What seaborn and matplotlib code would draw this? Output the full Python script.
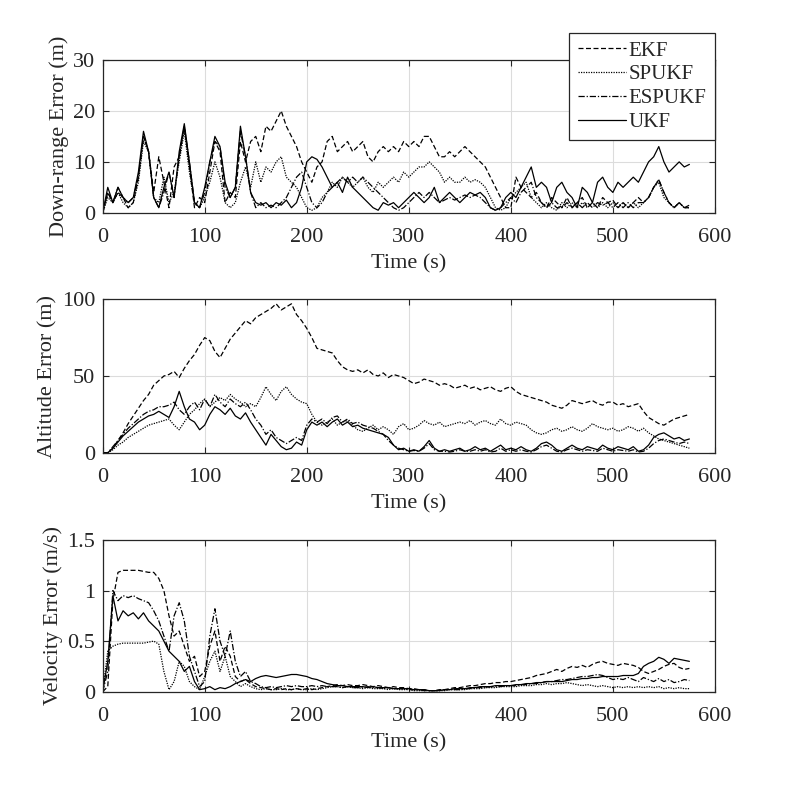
import numpy as np
import pandas as pd
import matplotlib
matplotlib.use("Agg")
import matplotlib.pyplot as plt
import seaborn as sns

# time axis, one sample every 5 s (0 ... 575 s)
t = np.arange(0, 580, 5)

filters = ["EKF", "SPUKF", "ESPUKF", "UKF"]

# ---------------- down-range error (m) ----------------
dr_ekf = [0, 4, 2, 4, 3, 1, 2, 7, 15, 12,
          4, 11, 6, 1, 9, 11, 17, 9, 1, 3,
          2, 8, 14, 12, 2, 4, 3, 14, 10, 14,
          15, 12, 17, 16, 18, 20, 17, 15, 13, 10,
          8, 6, 9, 10, 14, 15, 12, 13, 14, 12,
          13, 14, 11, 10, 12, 13, 12, 13, 12, 14,
          13, 14, 13, 15, 15, 13, 11, 11, 12, 11,
          12, 13, 12, 11, 10, 9, 7, 5, 3, 1,
          1, 7, 5, 4, 3, 4, 2, 1, 3, 2,
          1, 3, 1, 2, 3, 1, 2, 1, 3, 2,
          2.5, 1, 2, 1, 2, 3, 2, 3, 5, 6.5,
          4, 2, 1, 2, 1, 1.5]
dr_sp = [0, 3, 2, 4, 2, 1, 2, 6, 14, 12,
         3, 2, 7, 2, 4, 10, 16, 8, 2, 1,
         3, 6, 10, 7, 2, 1, 2, 6, 9, 5,
         10, 6, 9, 8, 10, 11, 7, 6, 5, 3,
         1, 0.5, 1, 3, 4, 6, 5, 7, 6, 5,
         6, 7, 5, 4, 6, 5, 6, 7, 6, 8,
         7, 8, 9, 9, 10, 9, 8, 6, 7, 6,
         6, 7, 6, 6.5, 6, 5, 3, 1, 0.5, 1,
         3, 4, 5, 6, 3, 2, 1, 2, 1, 0.5,
         2, 1, 2, 1, 2, 1, 2, 1, 2, 1,
         2, 1, 2, 1, 2, 1, 2, 3, 5, 6,
         3, 2, 1, 2, 1, 1]
dr_es = [0, 4, 2, 5, 3, 2, 3, 7, 15, 12,
         3, 1, 4, 8, 3, 11, 17, 10, 2, 1,
         4, 10, 14, 13, 5, 3, 5, 16, 11, 4,
         1, 2, 1, 1.5, 1, 2, 3, 5, 7, 8,
         5, 2, 1, 2, 4, 5, 6, 7, 6, 7,
         6, 7, 6, 5, 4, 3, 2, 1, 0.5, 1,
         2, 3, 4, 3, 4, 3, 2, 2.5, 3, 2.5,
         3, 3.5, 3, 3.5, 3, 2, 1, 0.5, 1, 2,
         3, 2, 4, 5, 6, 3, 2, 1, 2, 1,
         1, 2, 1, 2, 1, 2, 1, 2, 1.5, 2,
         1, 2, 1, 2, 1, 2, 2, 3, 5, 6.5,
         4, 2, 1, 2, 1, 1]
dr_ukf = [0, 5, 2, 5, 3, 2, 3, 8, 16, 12,
          3, 1, 5, 8, 3, 12, 17.5, 10, 2, 1,
          5, 10, 15, 13, 6, 3, 5, 17, 11, 4,
          2, 1.5, 2, 1, 2, 1.5, 2.5, 1, 2, 5,
          10, 11, 10.5, 9, 7, 5, 6, 4, 7, 5,
          4, 3, 2, 1, 0.5, 2, 1.5, 2, 1, 2,
          3, 4, 3, 2, 3, 5, 2, 3, 4, 3,
          2, 3, 4, 3.5, 4, 3, 1, 0.5, 1, 3,
          4, 3, 5, 7, 9, 5, 6, 5, 2, 5,
          6, 4, 3, 1, 5, 4, 2, 6, 7, 5,
          4, 6, 5, 6, 7, 6, 8, 10, 11, 13,
          10, 8, 9, 10, 9, 9.5]

# ---------------- altitude error (m) ----------------
alt_ekf = [0, 0, 3, 8, 13, 19, 24, 29, 34, 38,
           44, 47, 50, 51, 53, 49, 55, 60, 64, 70,
           75, 73, 66, 62, 68, 74, 78, 82, 86, 84,
           88, 90, 92, 94, 97, 93, 95, 97, 90, 86,
           81, 75, 68, 67, 66, 65, 60, 56, 54, 53,
           54, 52, 54, 51, 50, 52, 49, 51, 50, 49,
           47, 45, 46, 48, 47, 46, 44, 45, 44, 42,
           43, 44, 42, 43, 41, 42, 43, 41, 40, 42,
           43, 40, 38, 37, 36, 35, 34, 33, 31, 30,
           29, 31, 34, 33, 32, 33, 34, 32, 31, 33,
           33, 31, 32, 30, 31, 32, 27, 23, 21, 19,
           18, 20, 22, 23, 24, 25]
alt_sp = [0, 0, 2, 5, 7, 10, 12, 14, 16, 18,
          19, 20, 21, 22, 18, 15, 20, 25, 28, 32,
          35, 30, 33, 36, 34, 38, 35, 33, 30, 32,
          30, 36, 43, 38, 34, 40, 43, 38, 35, 33,
          32, 25, 20, 18, 20, 22, 18, 20, 21, 18,
          15, 14, 16, 18, 15, 17, 15, 12, 17, 19,
          15, 16, 18, 21, 19, 18, 20, 17, 18, 19,
          20, 19, 21, 18, 20, 21, 19, 18, 22, 19,
          18, 20, 19, 18, 15, 13, 12, 13, 15, 16,
          14, 15, 17, 15, 14, 16, 19, 17, 16, 15,
          16, 14, 15, 17, 16, 14, 16, 13, 11, 9,
          8, 7, 6, 5, 4, 3]
alt_es = [0, 0, 4, 8, 12, 16, 19, 22, 25, 27,
          28, 30, 30, 31, 33, 28, 25, 30, 33, 28,
          35, 30, 38, 33, 30, 35, 32, 30, 33, 28,
          22, 18, 12, 15, 10, 8, 6, 8, 10, 8,
          18, 22, 20, 22, 19, 23, 24, 20, 22, 19,
          20, 18, 17, 16, 14, 12, 8, 5, 3, 2,
          1, 1.5, 1, 3, 6, 2, 1, 1, 0.5, 1,
          2, 1, 1, 2, 1, 2, 0.5, 1, 3, 1,
          2, 1, 2, 1, 0.5, 2, 4, 5, 3, 1,
          0.5, 2, 3, 2, 1, 2, 1.5, 1, 3, 2,
          1, 2, 1.5, 1, 2, 0.5, 1, 3, 6, 8,
          9, 8, 7, 6, 7, 6]
alt_ukf = [0, 0, 3, 7, 11, 14, 17, 20, 22, 24,
           25, 27, 25, 23, 30, 40, 30, 22, 20, 15,
           18, 25, 30, 28, 25, 29, 24, 22, 26, 20,
           15, 10, 5, 12, 8, 4, 2, 3, 7, 5,
           15, 20, 18, 20, 17, 20, 22, 18, 20, 17,
           18, 16, 15, 14, 13, 12, 10, 5, 2, 3,
           1, 2, 1, 4, 8, 3, 1, 2, 1, 2,
           3, 1, 2, 4, 2, 3, 1, 3, 5, 2,
           3, 2, 4, 2, 1, 3, 6, 7, 5, 2,
           1, 3, 5, 3, 2, 4, 3, 2, 5, 3,
           2, 4, 3, 2, 4, 1, 2, 5, 10, 12,
           13, 11, 9, 10, 8, 9]

# ---------------- velocity error (m/s) ----------------
vel_ekf = [0, 0.05, 0.9, 1.18, 1.2, 1.2, 1.2, 1.2, 1.19, 1.18,
           1.18, 1.12, 1.0, 0.75, 0.55, 0.6, 0.45, 0.3, 0.35, 0.15,
           0.2, 0.45, 0.6, 0.3, 0.45, 0.35, 0.15, 0.1, 0.12, 0.08,
           0.05, 0.04, 0.03, 0.02, 0.03, 0.02, 0.03, 0.02, 0.03, 0.02,
           0.03, 0.02, 0.03, 0.04, 0.05, 0.06, 0.07, 0.06, 0.07, 0.06,
           0.06, 0.07, 0.06, 0.05, 0.06, 0.05, 0.04, 0.05, 0.04, 0.04,
           0.03, 0.03, 0.02, 0.02, 0.01, 0.01, 0.02, 0.02, 0.03, 0.04,
           0.04, 0.05, 0.06, 0.06, 0.07, 0.08, 0.08, 0.09, 0.09, 0.1,
           0.1, 0.11, 0.12, 0.13, 0.14, 0.16, 0.17, 0.18, 0.2, 0.22,
           0.2, 0.23, 0.25, 0.24, 0.26, 0.24, 0.27, 0.29, 0.3, 0.28,
           0.27, 0.26, 0.28, 0.27, 0.26, 0.24, 0.2, 0.18, 0.2, 0.22,
           0.25, 0.27, 0.28, 0.24, 0.22, 0.23]
vel_sp = [0, 0.4, 0.45, 0.47, 0.48, 0.48, 0.48, 0.48, 0.48, 0.49,
          0.5, 0.47, 0.2, 0.02, 0.1, 0.3, 0.25, 0.1, 0.05, 0.02,
          0.15, 0.3, 0.4, 0.2, 0.35, 0.15, 0.1, 0.05, 0.08, 0.05,
          0.03, 0.02, 0.03, 0.02, 0.02, 0.03, 0.02, 0.02, 0.03, 0.02,
          0.02, 0.03, 0.02, 0.03, 0.04, 0.05, 0.05, 0.04, 0.05, 0.04,
          0.04, 0.03, 0.04, 0.03, 0.03, 0.03, 0.02, 0.03, 0.02, 0.02,
          0.02, 0.01, 0.01, 0.01, 0.01, 0.01, 0.01, 0.01, 0.02, 0.02,
          0.02, 0.02, 0.03, 0.03, 0.03, 0.04, 0.04, 0.04, 0.05, 0.05,
          0.05, 0.05, 0.06, 0.06, 0.06, 0.07, 0.07, 0.08, 0.07, 0.08,
          0.08, 0.09, 0.08, 0.07, 0.06, 0.07, 0.06, 0.05, 0.06, 0.05,
          0.04, 0.05, 0.04, 0.05, 0.04, 0.05, 0.04, 0.05, 0.04, 0.05,
          0.03, 0.04, 0.03, 0.04, 0.03, 0.03]
vel_es = [0, 0.2, 1.0, 0.9, 0.95, 0.93, 0.95, 0.92, 0.9, 0.88,
          0.8, 0.7, 0.55, 0.4, 0.75, 0.88, 0.7, 0.35, 0.2, 0.05,
          0.1, 0.55, 0.82, 0.5, 0.35, 0.6, 0.3, 0.15, 0.2, 0.1,
          0.08, 0.05, 0.04, 0.05, 0.04, 0.05, 0.06, 0.05, 0.06, 0.05,
          0.05, 0.06, 0.05, 0.06, 0.05, 0.05, 0.05, 0.04, 0.05, 0.04,
          0.04, 0.04, 0.05, 0.04, 0.04, 0.03, 0.04, 0.03, 0.03, 0.03,
          0.02, 0.02, 0.02, 0.01, 0.01, 0.01, 0.01, 0.02, 0.02, 0.02,
          0.02, 0.03, 0.03, 0.04, 0.04, 0.04, 0.05, 0.05, 0.05, 0.06,
          0.06, 0.06, 0.07, 0.07, 0.08, 0.08, 0.09, 0.1, 0.1, 0.11,
          0.12, 0.12, 0.13, 0.14, 0.15, 0.15, 0.16, 0.17, 0.16, 0.14,
          0.12, 0.13, 0.12, 0.14, 0.12, 0.1, 0.14, 0.12, 0.1, 0.13,
          0.1, 0.12, 0.09, 0.1, 0.12, 0.11]
vel_ukf = [0, 0.3, 0.95, 0.7, 0.8, 0.75, 0.78, 0.72, 0.78, 0.7,
           0.65, 0.6, 0.5, 0.4, 0.35, 0.3, 0.2, 0.25, 0.1, 0.02,
           0.03, 0.05, 0.02, 0.04, 0.03, 0.05, 0.08, 0.1, 0.12, 0.1,
           0.13, 0.15, 0.16, 0.15, 0.14, 0.15, 0.16, 0.17, 0.17, 0.16,
           0.15, 0.13, 0.12, 0.1, 0.08, 0.07, 0.06, 0.06, 0.05, 0.05,
           0.05, 0.05, 0.04, 0.05, 0.04, 0.04, 0.04, 0.03, 0.03, 0.03,
           0.03, 0.02, 0.02, 0.02, 0.01, 0.01, 0.01, 0.02, 0.02, 0.03,
           0.03, 0.03, 0.04, 0.04, 0.05, 0.05, 0.05, 0.06, 0.06, 0.06,
           0.06, 0.07, 0.07, 0.08, 0.08, 0.09, 0.09, 0.1, 0.1, 0.1,
           0.1, 0.11, 0.12, 0.12, 0.13, 0.13, 0.14, 0.14, 0.15, 0.15,
           0.15, 0.15, 0.16, 0.16, 0.16, 0.18, 0.25, 0.28, 0.3, 0.34,
           0.32, 0.28, 0.33, 0.32, 0.31, 0.3]


def long_df(series):
    frames = []
    for name, vals in zip(filters, series):
        frames.append(pd.DataFrame({"t": t, "err": vals, "filter": name}))
    return pd.concat(frames, ignore_index=True)


sns.set_theme(style="ticks")
plt.rcParams["font.family"] = ["Liberation Serif", "DejaVu Serif"]

dash_map = {"EKF": (4, 2), "SPUKF": (1, 1), "ESPUKF": (5, 1.5, 1, 1.5), "UKF": ""}

panels = [
    ([dr_ekf, dr_sp, dr_es, dr_ukf], "Down-range Error (m)", (0, 30), [0, 10, 20, 30], [0, 10, 20, 30]),
    ([alt_ekf, alt_sp, alt_es, alt_ukf], "Altitude Error (m)", (0, 100), [0, 50, 100], [0, 50, 100]),
    ([vel_ekf, vel_sp, vel_es, vel_ukf], "Velocity Error (m/s)", (0, 1.5), [0, 0.5, 1, 1.5], ["0", "0.5", "1", "1.5"]),
]

fig = plt.figure(figsize=(7.91, 8.0), dpi=100)
rects = [
    [0.1298, 0.734, 0.774, 0.191],
    [0.1298, 0.434, 0.774, 0.192],
    [0.1298, 0.1354, 0.774, 0.1896],
]

for k, (series, ylab, ylim, yt, ytl) in enumerate(panels):
    ax = fig.add_axes(rects[k])
    df = long_df(series)
    sns.lineplot(data=df, x="t", y="err", style="filter", style_order=filters,
                 dashes=dash_map, color="black", linewidth=0.9, ax=ax,
                 legend=(k == 0))
    ax.set_xlim(0, 600)
    ax.set_ylim(*ylim)
    ax.set_xticks([0, 100, 200, 300, 400, 500, 600])
    ax.set_yticks(yt)
    ax.set_yticklabels(ytl)
    ax.grid(True, color="#dcdcdc", linewidth=0.8)
    ax.set_axisbelow(True)
    for sp in ax.spines.values():
        sp.set_visible(True)
        sp.set_color("#262626")
        sp.set_linewidth(0.9)
    ax.tick_params(direction="in", top=True, right=True, length=4,
                   width=0.8, color="#262626", labelsize=16,
                   labelcolor="#262626")
    ax.tick_params(axis="x", pad=11)
    ax.tick_params(axis="y", pad=5.5)
    ax.set_xlabel("Time (s)", fontsize=16, color="#262626", labelpad=5)
    ax.set_ylabel(ylab, fontsize=16, color="#262626", labelpad=3)
    if k == 0:
        handles, labels = ax.get_legend_handles_labels()
        ax.get_legend().remove()
        leg = fig.legend(handles, labels, loc="upper right",
                         bbox_to_anchor=(0.904, 0.959), fontsize=15,
                         frameon=True, fancybox=False, framealpha=1,
                         edgecolor="#262626", borderaxespad=0,
                         handlelength=2.3, handletextpad=0.15,
                         labelspacing=0.2, borderpad=0.4)
        leg.get_frame().set_linewidth(0.9)
        for line in leg.get_lines():
            line.set_linewidth(0.9)

fig.savefig("out.png", dpi=100, facecolor="white")
